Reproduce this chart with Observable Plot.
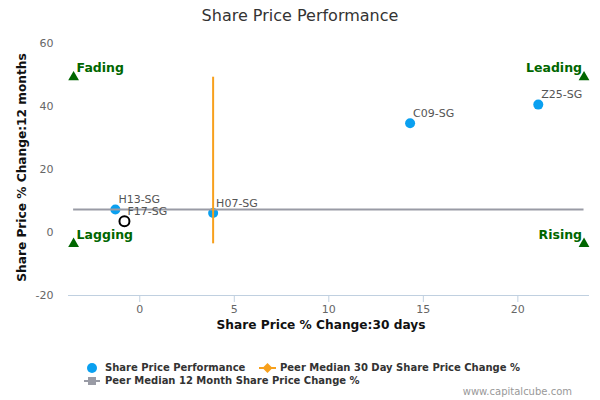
<!DOCTYPE html>
<html>
<head>
<meta charset="utf-8">
<script src="https://cdn.jsdelivr.net/npm/d3@7"></script>
<script src="https://cdn.jsdelivr.net/npm/@observablehq/plot@0.6"></script>
<style>
  body { margin: 0; font-family: "DejaVu Sans", sans-serif; background: #fff; }
  #wrap { position: relative; width: 600px; height: 400px; overflow: hidden; }
  #title { position: absolute; left: 0; top: 6px; width: 600px; text-align: center; font-size: 16px; color: #333; }
  #chart { position: absolute; left: 0; top: 30px; }
  #legend { position: absolute; left: 0; top: 358px; width: 600px; height: 30px; }
  .lg { position: absolute; font-size: 10px; font-weight: bold; color: #333; white-space: nowrap; }
  #credit { position: absolute; right: 28px; top: 386px; font-size: 10px; color: #999; }
</style>
</head>
<body>
<div id="wrap">
  <div id="title">Share Price Performance</div>
  <div id="chart"></div>
  <div id="legend">
    <svg width="600" height="30" style="position:absolute;left:0;top:0">
      <circle cx="92" cy="10" r="5" fill="#0AA0F0"></circle>
      <line x1="259" x2="276" y1="10" y2="10" stroke="#F7A01D" stroke-width="2"></line>
      <path d="M267.5,5 L272.5,10 L267.5,15 L262.5,10 Z" fill="#F7A01D"></path>
      <line x1="84" x2="100" y1="23" y2="23" stroke="#999BA5" stroke-width="2"></line>
      <rect x="88" y="19" width="8" height="8" fill="#999BA5"></rect>
    </svg>
    <div class="lg" style="left:105px;top:4px">Share Price Performance</div>
    <div class="lg" style="left:280px;top:4px">Peer Median 30 Day Share Price Change %</div>
    <div class="lg" style="left:105px;top:17px">Peer Median 12 Month Share Price Change %</div>
  </div>
  <div id="credit">www.capitalcube.com</div>
</div>
<script>
// Data
const tickers = ["H13-SG", "F17-SG", "H07-SG", "C09-SG", "Z25-SG"];
const change30d = [-1.29, -0.81, 3.88, 14.3, 21.08];
const change12m = [7.3, 3.6, 6.2, 34.7, 40.6];
const targetTicker = "F17-SG";
const peerMedian30d = 3.88;
const peerMedian12m = 7.3;
const quadrantNames = ["Fading", "Leading", "Lagging", "Rising"];
const quadrantX = [-3.5, 23.5, -3.5, 23.5];
const quadrantY = [49.3, 49.3, -3.6, -3.6];
const xTicks = [0, 5, 10, 15, 20];
const yTicks = [-20, 0, 20, 40, 60];
const xDomain = [-3.77, 23.79];
const yDomain = [-20, 60];

const points = tickers.map((t, i) => ({ ticker: t, x: change30d[i], y: change12m[i] }));
const peers = points.filter(d => d.ticker !== targetTicker);
const target = points.filter(d => d.ticker === targetTicker);
const quads = quadrantNames.map((n, i) => ({ name: n, x: quadrantX[i], y: quadrantY[i], right: quadrantX[i] > 10 }));

const green = "#006600";
const fmt = d => String(d);
const chart = Plot.plot({
  width: 600,
  height: 320,
  marginLeft: 68,
  marginRight: 11,
  marginTop: 13,
  marginBottom: 55,
  style: { fontFamily: "DejaVu Sans, sans-serif", background: "transparent" },
  x: { domain: xDomain },
  y: { domain: yDomain },
  marks: [
    Plot.ruleY([yDomain[0]], { stroke: "#C0D0E0", strokeWidth: 1 }),
    Plot.axisX({ ticks: xTicks, tickFormat: fmt, tickSize: 7, tickPadding: 3, stroke: "#C0D0E0", strokeOpacity: 1, fill: "#666", fontSize: 11, label: null }),
    Plot.axisY({ ticks: yTicks, tickFormat: fmt, tickSize: 0, tickPadding: 15, fill: "#666", fontSize: 11, label: null }),
    Plot.text(["Share Price % Change:30 days"], { frameAnchor: "bottom", textAnchor: "middle", dy: 33, dx: -8, fontSize: 12.2, fontWeight: "bold", fill: "#111" }),
    Plot.text(["Share Price % Change:12 months"], { frameAnchor: "left", textAnchor: "middle", dx: -46, dy: -2, rotate: -90, fontSize: 12.2, fontWeight: "bold", fill: "#111" }),
    Plot.dot(peers, { x: "x", y: "y", r: 5, fill: "#0AA0F0", stroke: "none" }),
    Plot.dot(target, { x: "x", y: "y", r: 5, fill: "white", stroke: "#000", strokeWidth: 2 }),
    Plot.ruleY([peerMedian12m], { x1: quadrantX[0], x2: quadrantX[1], stroke: "#999BA5", strokeWidth: 2 }),
    Plot.ruleX([peerMedian30d], { y1: quadrantY[2], y2: quadrantY[0], stroke: "#F7A01D", strokeWidth: 2 }),
    Plot.text(points, { x: "x", y: "y", text: "ticker", textAnchor: "start", dx: 3, dy: -10, fontSize: 11, fill: "#555" }),
    Plot.dot(quads, { x: "x", y: "y", symbol: "triangle", r: 4, fill: green, stroke: "none" }),
    Plot.text(quads.filter(d => !d.right), { x: "x", y: "y", text: "name", textAnchor: "start", dx: 3, dy: -9, fontSize: 12.5, fontWeight: "bold", fill: green }),
    Plot.text(quads.filter(d => d.right), { x: "x", y: "y", text: "name", textAnchor: "end", dx: -2, dy: -9, fontSize: 12.5, fontWeight: "bold", fill: green })
  ]
});
document.getElementById("chart").appendChild(chart);
</script>
</body>
</html>
